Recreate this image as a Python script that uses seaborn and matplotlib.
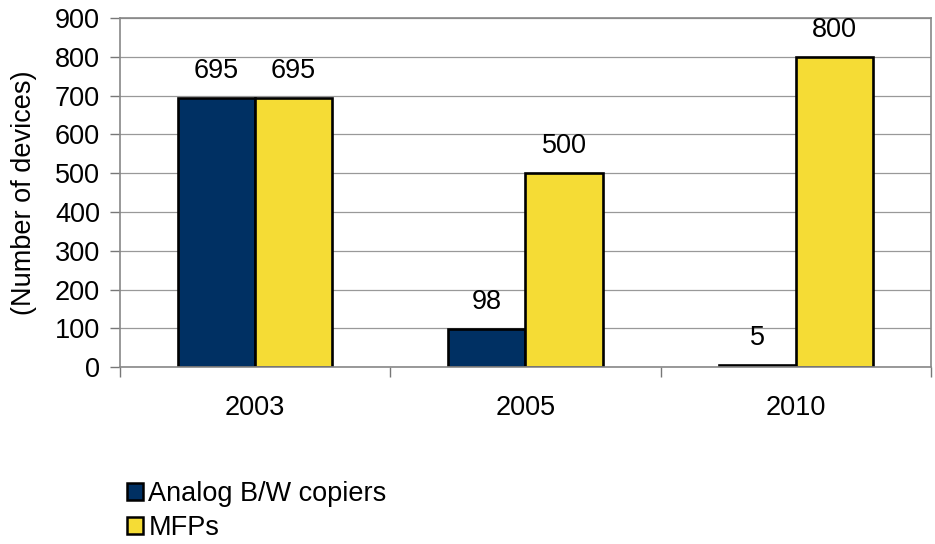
import matplotlib
matplotlib.use("Agg")
import matplotlib.pyplot as plt
import seaborn as sns
import pandas as pd
from matplotlib.patches import Patch

years = ["2003", "2005", "2010"]
series = ["Analog B/W copiers", "MFPs"]
analog = [695, 98, 5]
mfps = [695, 500, 800]
colors = ["#003063", "#F5DC35"]

df = pd.DataFrame({
    "year": years * 2,
    "series": [series[0]] * 3 + [series[1]] * 3,
    "value": analog + mfps,
})

sns.set_theme(style="white")
plt.rcParams["font.family"] = ["Liberation Sans", "DejaVu Sans"]
plt.rcParams["text.color"] = "black"
plt.rcParams["axes.labelcolor"] = "black"
plt.rcParams["xtick.color"] = "black"
plt.rcParams["ytick.color"] = "black"

FS = 19.5

fig = plt.figure(figsize=(9.35, 5.44), dpi=100)
ax = fig.add_axes([0.128, 0.325, 0.868, 0.642])

sns.barplot(data=df, x="year", y="value", hue="series", order=years,
            hue_order=series, palette=colors, width=0.57, saturation=1,
            edgecolor="black", linewidth=1.9, legend=False, ax=ax)

for cont in ax.containers:
    ax.bar_label(cont, padding=10, fontsize=FS, color="black")

ax.set_ylim(0, 900)
ax.set_xlim(-0.5, 2.5)
ax.set_yticks(range(0, 901, 100))
ax.yaxis.grid(True, color="#999999", linewidth=0.9)
ax.set_axisbelow(True)
ax.set_xlabel("")
ax.set_ylabel("(Number of devices)", fontsize=FS, labelpad=13)
ax.tick_params(axis="y", labelsize=FS, left=True, length=7, width=1,
               color="#777777", labelcolor="black", pad=7)
ax.tick_params(axis="x", which="major", labelsize=FS, bottom=False,
               labelcolor="black", pad=14)
ax.set_xticks([-0.5, 0.5, 1.5, 2.5], minor=True)
ax.tick_params(axis="x", which="minor", bottom=True, length=7, width=1,
               color="#777777")
for s in ["left", "bottom", "top", "right"]:
    ax.spines[s].set_visible(True)
    ax.spines[s].set_color("#888888")
    ax.spines[s].set_linewidth(1.2)

handles = [Patch(facecolor=c, edgecolor="black", linewidth=1.8) for c in colors]
fig.legend(handles, series, loc="upper left", bbox_to_anchor=(0.124, 0.135),
           frameon=False, fontsize=FS, handlelength=0.6, handleheight=0.6,
           handletextpad=0.2, labelspacing=0.28, borderaxespad=0)

fig.savefig("out.png", dpi=100)
